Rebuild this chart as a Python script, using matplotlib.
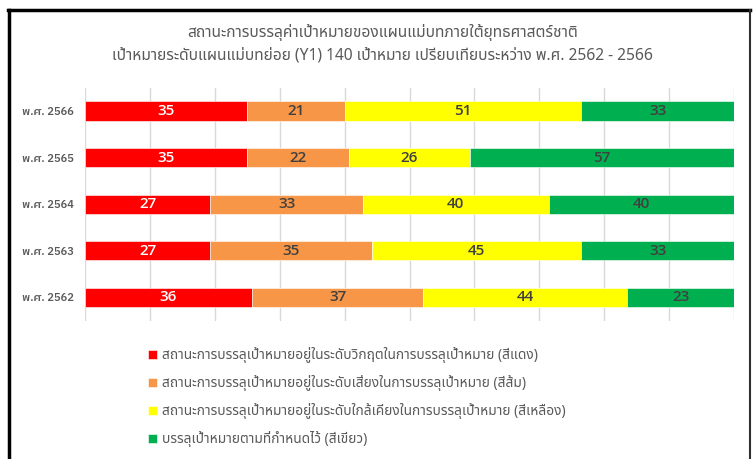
import matplotlib
matplotlib.use('Agg')
import matplotlib.pyplot as plt

plt.rcParams['font.family'] = ['Noto Sans Thai', 'Noto Sans', 'DejaVu Sans']

years = ['พ.ศ. 2562', 'พ.ศ. 2563', 'พ.ศ. 2564', 'พ.ศ. 2565', 'พ.ศ. 2566']
red = [36, 27, 27, 35, 35]
orange = [37, 35, 33, 22, 21]
yellow = [44, 45, 40, 26, 51]
green = [23, 33, 40, 57, 33]

labels = [
    'สถานะการบรรลุเป้าหมายอยู่ในระดับวิกฤตในการบรรลุเป้าหมาย (สีแดง)',
    'สถานะการบรรลุเป้าหมายอยู่ในระดับเสี่ยงในการบรรลุเป้าหมาย (สีส้ม)',
    'สถานะการบรรลุเป้าหมายอยู่ในระดับใกล้เคียงในการบรรลุเป้าหมาย (สีเหลือง)',
    'บรรลุเป้าหมายตามที่กำหนดไว้ (สีเขียว)',
]
colors = ['#FF0000', '#F79646', '#FFFF00', '#00B050']
title1 = 'สถานะการบรรลุค่าเป้าหมายของแผนแม่บทภายใต้ยุทธศาสตร์ชาติ'
title2 = 'เป้าหมายระดับแผนแม่บทย่อย (Y1) 140 เป้าหมาย เปรียบเทียบระหว่าง พ.ศ. 2562 - 2566'

fig = plt.figure(figsize=(7.53, 4.59), dpi=100)
ax = fig.add_axes([0.1129, 0.3017, 0.8619, 0.5073])

left = [0] * len(years)
series = [red, orange, yellow, green]
for vals, col, lab in zip(series, colors, labels):
    bars = ax.barh(years, vals, left=left, color=col, height=0.41, label=lab,
                   edgecolor='white', linewidth=0.4, zorder=3)
    tc = 'white' if col == '#FF0000' else '#404040'
    ax.bar_label(bars, label_type='center', color=tc, fontsize=11,
                 fontweight='semibold', family=['Open Sans', 'DejaVu Sans'])
    left = [a + b for a, b in zip(left, vals)]

ax.set_xlim(0, 140)
ax.set_ylim(-0.5, len(years) - 0.5)
ax.set_xticks(range(0, 141, 14))
ax.tick_params(axis='x', length=0, labelbottom=False)
ax.tick_params(axis='y', length=0, pad=8)
for t in ax.get_yticklabels():
    t.set_fontfamily(['IBM Plex Sans Thai', 'Noto Sans Thai'])
    t.set_fontweight('semibold')
    t.set_fontsize(8)
    t.set_color('#595959')
ax.grid(axis='x', color='#D9D9D9', linewidth=1, zorder=0)
for s in ax.spines.values():
    s.set_visible(False)

fig.text(0.508, 0.930, title1, ha='center', va='center', fontsize=11.2, color='#595959')
fig.text(0.508, 0.878, title2, ha='center', va='center', fontsize=11.2, color='#595959')

h, l = ax.get_legend_handles_labels()
fig.legend(h, l, loc='upper left', bbox_to_anchor=(0.196, 0.243), frameon=False,
           fontsize=9.9, labelcolor='#595959', handlelength=0.65, handleheight=0.65,
           handletextpad=0.4, labelspacing=0.86, borderpad=0, borderaxespad=0)

# outer frame of the picture (bottom edge cut off)
fig.add_artist(plt.Line2D([0.0119, 0.0119], [0, 0.979], color='black', lw=2.5,
                          transform=fig.transFigure))
fig.add_artist(plt.Line2D([0.0105, 0.9960], [0.979, 0.979], color='black', lw=2.5,
                          transform=fig.transFigure))
fig.add_artist(plt.Line2D([0.9960, 0.9960], [0, 0.979], color='#303030', lw=1.5,
                          transform=fig.transFigure))

fig.savefig('out.png')
